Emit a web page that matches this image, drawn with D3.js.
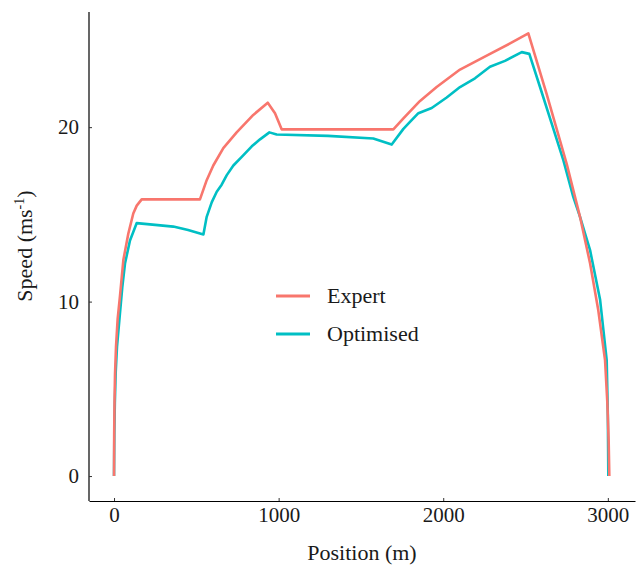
<!DOCTYPE html>
<html>
<head>
<meta charset="utf-8">
<script src="https://cdn.jsdelivr.net/npm/d3@7"></script>
<style>
  body { margin: 0; background: #fff; }
  svg text { font-family: "Liberation Serif", "Times New Roman", serif; fill: #1a1a1a; }
</style>
</head>
<body>
<div id="myChart"></div>
<script>
// speed profiles: position (m) and speed (m/s)
const expertPos = [0, 1, 3, 6, 12, 22, 36, 57, 87, 117, 138, 168, 300, 522, 563, 603, 664, 745, 846, 934, 978, 1019, 1300, 1697, 1758, 1859, 1960, 2102, 2264, 2406, 2517, 2628, 2750, 2831, 2892, 2942, 2983, 2997, 3005, 3009];
const expertSpeed = [0, 2.4, 4.2, 5.8, 7.4, 9.0, 10.3, 12.4, 13.9, 15.05, 15.5, 15.86, 15.86, 15.86, 16.96, 17.8, 18.8, 19.7, 20.7, 21.4, 20.8, 19.87, 19.87, 19.87, 20.5, 21.5, 22.3, 23.3, 24.1, 24.8, 25.37, 21.9, 17.9, 14.86, 12.2, 9.5, 6.65, 4.2, 2.0, 0];

const optPos = [0, 2, 5, 10, 18, 32, 50, 67, 97, 138, 250, 360, 450, 543, 563, 594, 624, 654, 685, 725, 776, 837, 887, 944, 988, 1300, 1575, 1687, 1758, 1798, 1849, 1930, 2021, 2102, 2193, 2284, 2375, 2477, 2523, 2588, 2659, 2730, 2790, 2831, 2892, 2953, 2993, 3000, 3003];
const optSpeed = [0, 2.5, 4.2, 5.9, 7.4, 8.9, 10.8, 12.2, 13.5, 14.5, 14.4, 14.3, 14.1, 13.85, 14.86, 15.7, 16.3, 16.7, 17.25, 17.8, 18.3, 18.9, 19.3, 19.7, 19.58, 19.5, 19.35, 19.0, 19.9, 20.3, 20.8, 21.1, 21.7, 22.3, 22.8, 23.46, 23.8, 24.3, 24.2, 22.3, 20.2, 18.1, 16.0, 14.86, 12.95, 10.1, 6.65, 3.5, 0];

const seriesNames = ["Expert", "Optimised"];
const seriesColors = ["#F8766D", "#00BFC4"];
const xTicks = [0, 1000, 2000, 3000];
const yTicks = [0, 10, 20];

const w = 640, h = 566;
const svg = d3.select("#myChart").append("svg").attr("width", w).attr("height", h);

const xScale = d3.scaleLinear().domain([-152, 3165]).range([89, 635]);
const yScale = d3.scaleLinear().domain([-1.43, 26.6]).range([501, 12]);

const line = d3.line().x(d => xScale(d[0])).y(d => yScale(d[1]));

const series = [
  d3.zip(expertPos, expertSpeed),
  d3.zip(optPos, optSpeed)
];

// optimised drawn first so expert sits on top at the start
[1, 0].forEach(i => {
  svg.append("path")
    .datum(series[i])
    .attr("fill", "none")
    .attr("stroke", seriesColors[i])
    .attr("stroke-width", 2.6)
    .attr("stroke-linejoin", "round")
    .attr("d", line);
});

const xAxis = svg.append("g")
  .attr("transform", "translate(0,501)")
  .call(d3.axisBottom(xScale).tickValues(xTicks).tickSizeInner(-3).tickSizeOuter(0).tickPadding(6).tickFormat(d3.format("d")));
const yAxis = svg.append("g")
  .attr("transform", "translate(89,0)")
  .call(d3.axisLeft(yScale).tickValues(yTicks).tickSizeInner(-3).tickSizeOuter(0).tickPadding(10));

[xAxis, yAxis].forEach(g => {
  g.select(".domain").attr("stroke", "#000").attr("stroke-width", 1.2);
  g.selectAll(".tick line").attr("stroke", "#333").attr("stroke-width", 1);
  g.selectAll(".tick text").style("font-size", "21px").attr("fill", "#1a1a1a");
});
yAxis.select(".domain").attr("d", "M0,12V501");

// axis titles
svg.append("text")
  .attr("x", 362).attr("y", 560)
  .attr("text-anchor", "middle")
  .style("font-size", "22px")
  .text("Position (m)");

const yt = svg.append("text")
  .attr("transform", "translate(32,246) rotate(-90)")
  .attr("text-anchor", "middle")
  .style("font-size", "22px");
yt.append("tspan").text("Speed (ms");
yt.append("tspan").attr("dy", -8).style("font-size", "14px").text("-1");
yt.append("tspan").attr("dy", 8).text(")");

// legend
const legend = svg.append("g").attr("id", "legend");
seriesNames.forEach((name, i) => {
  const cy = 296 + i * 38;
  legend.append("line")
    .attr("x1", 276).attr("x2", 310)
    .attr("y1", cy).attr("y2", cy)
    .attr("stroke", seriesColors[i])
    .attr("stroke-width", 2.8);
  legend.append("text")
    .attr("x", 327).attr("y", cy + 7)
    .style("font-size", "22px")
    .text(name);
});
</script>
</body>
</html>
